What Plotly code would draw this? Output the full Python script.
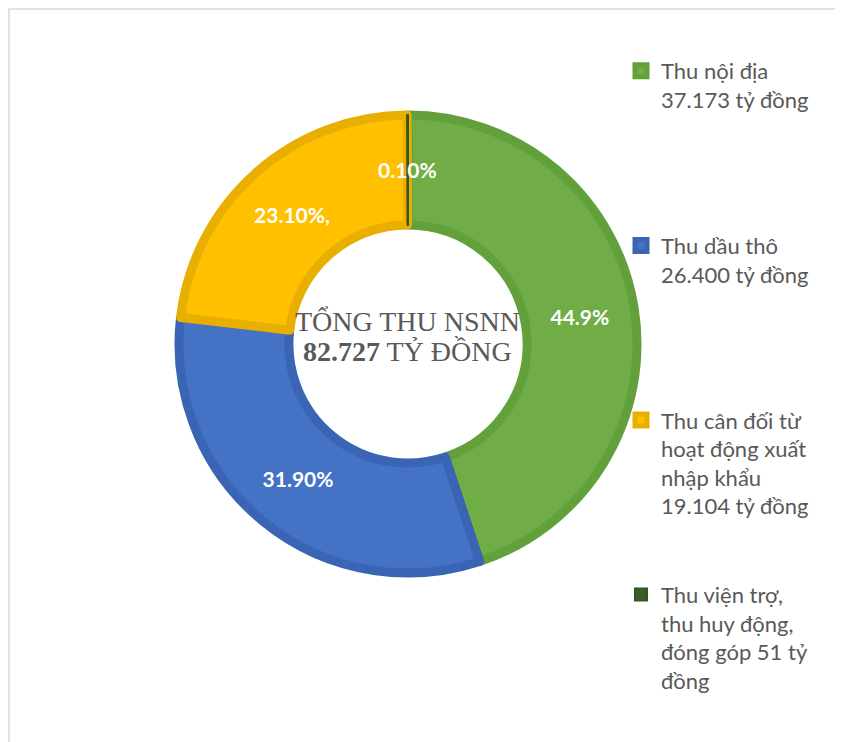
import math
import plotly.graph_objects as go

# Revenue structure (ty dong)
labels = [
    "Thu nội địa<br>37.173 tỷ đồng",
    "Thu dầu thô<br>26.400 tỷ đồng",
    "Thu cân đối từ<br>hoạt động xuất<br>nhập khẩu<br>19.104 tỷ đồng",
    "Thu viện trợ,<br>thu huy động,<br>đóng góp 51 tỷ<br>đồng",
]
values = [37173, 26400, 19104, 51]
pct_text = ["44.9%", "31.90%", "23.10%,", "0.10%"]

fill_colors = ["#70AD47", "#4472C4", "#FFC000", "#3B5E26"]
edge_colors = ["#62A03C", "#3A65B4", "#E8AE00", "#345421"]
edge_widths = [9, 9, 9, 2]

W, H = 843, 742

# pad legend labels with blank lines so the entries spread down the page
pad_lines = [4, 4, 2, 0]
legend_labels = [lab + "<br> " * n for lab, n in zip(labels, pad_lines)]

cx, cy, r = 400, 336, 229
hole = 0.52

# the tiny last slice gets its label as an annotation (plotly pushes it to the rim)
slice_text = pct_text[:-1] + [""]

fig = go.Figure(go.Pie(
    labels=legend_labels,
    values=values,
    text=slice_text,
    textinfo="text",
    textposition="inside",
    insidetextorientation="horizontal",
    textfont=dict(family="Lato", size=21, color="white", weight="bold"),
    hole=hole,
    sort=False,
    direction="clockwise",
    rotation=0,
    marker=dict(colors=fill_colors, line=dict(color=edge_colors, width=edge_widths)),
    domain=dict(x=[(cx - r) / W, (cx + r) / W], y=[(H - cy - r) / H, (H - cy + r) / H]),
))

# place the small-slice label at the middle of the ring, mid-angle of the slice
total = sum(values)
theta = 2 * math.pi * (sum(values[:-1]) + values[-1] / 2) / total
rm = r * (1 + hole) / 2
fig.add_annotation(
    text="<b>" + pct_text[-1] + "</b>",
    x=(cx + rm * math.sin(theta)) / W, y=1 - (cy - rm * math.cos(theta)) / H,
    xref="paper", yref="paper", xanchor="center", yanchor="middle", showarrow=False,
    font=dict(family="Lato", size=21, color="white"),
)

center_font = dict(family="Liberation Serif", size=28, color="#595959")
fig.add_annotation(text="TỔNG THU NSNN", x=399 / W, y=1 - 313 / H,
                   xref="paper", yref="paper", xanchor="center", yanchor="middle",
                   showarrow=False, font=center_font)
fig.add_annotation(text="<b>82.727</b> TỶ ĐỒNG", x=399 / W, y=1 - 343 / H,
                   xref="paper", yref="paper", xanchor="center", yanchor="middle",
                   showarrow=False, font=center_font)

# light frame around chart area
fig.add_shape(type="rect", xref="paper", yref="paper",
              x0=1 / W, x1=1.1, y0=-0.1, y1=1 - 1 / H,
              line=dict(color="#D9D9D9", width=1.5), fillcolor="rgba(0,0,0,0)")

fig.update_layout(
    width=W, height=H,
    margin=dict(l=0, r=0, t=0, b=0),
    paper_bgcolor="white",
    uniformtext=dict(minsize=21, mode="show"),
    showlegend=True,
    legend=dict(
        x=613 / W, y=1 - 42 / H, xanchor="left", yanchor="top",
        valign="top", itemwidth=30,
        font=dict(family="Lato", size=22, color="#595959"),
        bgcolor="rgba(0,0,0,0)",
    ),
)

fig.write_html("out.html")
